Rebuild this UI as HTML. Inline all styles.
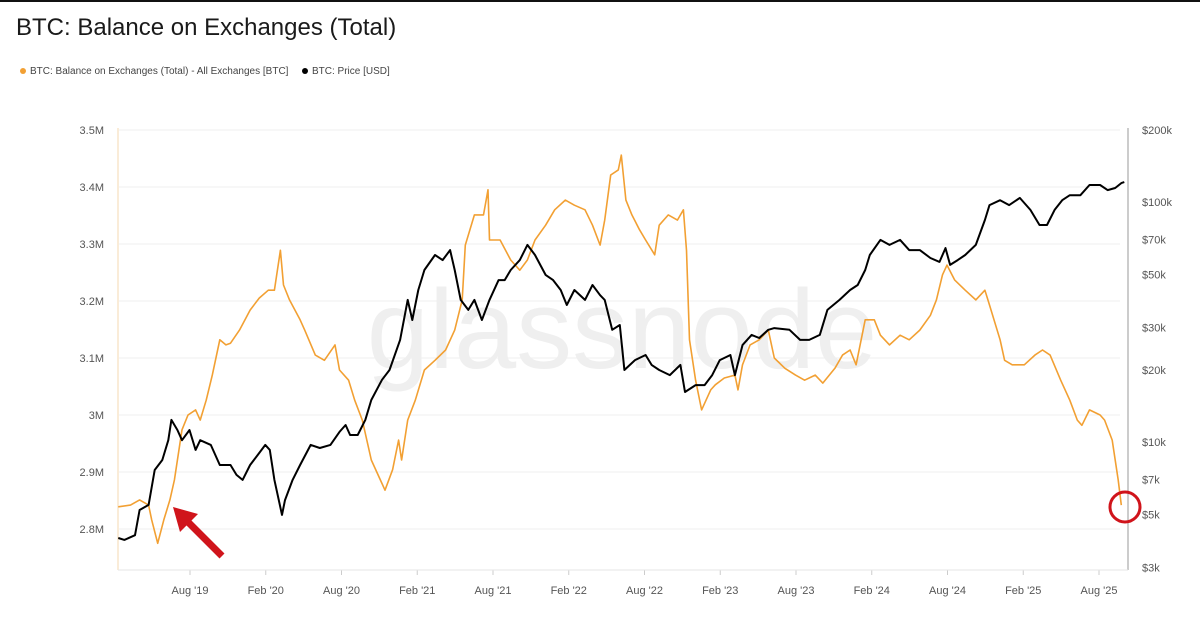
<!DOCTYPE html>
<html><head><meta charset="utf-8"><style>
body{margin:0;background:#fff;font-family:"Liberation Sans",sans-serif}
#wrap{position:relative;width:1200px;height:628px;overflow:hidden}
</style></head><body>
<div id="wrap">
<div style="position:absolute;left:0;top:0;width:1200px;height:2px;background:#111"></div>
<div style="position:absolute;left:16px;top:14px;font-size:24px;color:#1a1a1a">BTC: Balance on Exchanges (Total)</div>
<div style="position:absolute;left:20px;top:66px;font-size:10px;color:#444"><span style="display:inline-block;width:6px;height:6px;border-radius:50%;background:#f2a033;margin-right:4px"></span>BTC: Balance on Exchanges (Total) - All Exchanges [BTC]</div>
<div style="position:absolute;left:302px;top:66px;font-size:10px;color:#444"><span style="display:inline-block;width:6px;height:6px;border-radius:50%;background:#000;margin-right:4px"></span>BTC: Price [USD]</div>
<svg id="chart" width="1200" height="628" style="position:absolute;left:0;top:0"></svg>
</div>
<script>
const balTimes=[2019.11,2019.19,2019.25,2019.31,2019.33,2019.37,2019.41,2019.45,2019.48,2019.53,2019.57,2019.62,2019.65,2019.69,2019.73,2019.78,2019.82,2019.85,2019.91,2019.98,2020.04,2020.10,2020.14,2020.18,2020.20,2020.24,2020.31,2020.34,2020.41,2020.47,2020.54,2020.57,2020.63,2020.67,2020.72,2020.78,2020.84,2020.87,2020.92,2020.96,2020.98,2021.02,2021.07,2021.13,2021.20,2021.27,2021.33,2021.38,2021.40,2021.46,2021.52,2021.55,2021.56,2021.63,2021.70,2021.76,2021.81,2021.86,2021.93,2021.99,2022.06,2022.12,2022.19,2022.24,2022.29,2022.32,2022.36,2022.41,2022.43,2022.46,2022.50,2022.55,2022.59,2022.65,2022.68,2022.74,2022.80,2022.84,2022.86,2022.88,2022.92,2022.96,2023.02,2023.05,2023.11,2023.18,2023.20,2023.23,2023.28,2023.34,2023.40,2023.44,2023.51,2023.58,2023.64,2023.71,2023.76,2023.84,2023.89,2023.94,2023.98,2024.04,2024.10,2024.14,2024.20,2024.27,2024.33,2024.40,2024.47,2024.51,2024.55,2024.58,2024.63,2024.70,2024.77,2024.83,2024.86,2024.93,2024.96,2025.01,2025.09,2025.16,2025.21,2025.26,2025.33,2025.39,2025.44,2025.47,2025.52,2025.59,2025.62,2025.67,2025.71,2025.73];
const balValues=[2.839,2.842,2.851,2.842,2.816,2.775,2.816,2.851,2.886,2.974,3.000,3.009,2.991,3.026,3.070,3.132,3.123,3.126,3.149,3.184,3.205,3.219,3.219,3.289,3.228,3.202,3.167,3.149,3.105,3.096,3.123,3.079,3.061,3.026,2.991,2.921,2.886,2.868,2.904,2.956,2.921,2.991,3.026,3.079,3.096,3.114,3.149,3.202,3.298,3.351,3.351,3.395,3.307,3.307,3.272,3.254,3.272,3.307,3.333,3.360,3.377,3.368,3.360,3.333,3.298,3.342,3.421,3.430,3.456,3.377,3.351,3.325,3.307,3.281,3.333,3.351,3.342,3.360,3.289,3.132,3.061,3.009,3.044,3.053,3.065,3.070,3.044,3.088,3.123,3.132,3.149,3.100,3.082,3.070,3.061,3.070,3.056,3.082,3.105,3.114,3.088,3.167,3.167,3.140,3.123,3.140,3.132,3.149,3.175,3.202,3.246,3.263,3.237,3.219,3.202,3.219,3.193,3.132,3.096,3.088,3.088,3.105,3.114,3.105,3.061,3.026,2.991,2.982,3.009,3.000,2.991,2.956,2.886,2.842];
const priceTimes=[2019.11,2019.15,2019.22,2019.25,2019.31,2019.35,2019.40,2019.44,2019.46,2019.50,2019.53,2019.58,2019.62,2019.65,2019.72,2019.78,2019.85,2019.89,2019.93,2019.98,2020.03,2020.08,2020.11,2020.14,2020.19,2020.21,2020.26,2020.31,2020.38,2020.44,2020.51,2020.57,2020.61,2020.64,2020.69,2020.74,2020.78,2020.85,2020.90,2020.97,2021.02,2021.05,2021.09,2021.13,2021.20,2021.25,2021.30,2021.33,2021.37,2021.42,2021.46,2021.51,2021.56,2021.62,2021.66,2021.70,2021.76,2021.81,2021.86,2021.93,2021.98,2022.03,2022.07,2022.12,2022.19,2022.24,2022.29,2022.32,2022.37,2022.42,2022.45,2022.52,2022.59,2022.63,2022.68,2022.75,2022.82,2022.85,2022.92,2022.98,2023.03,2023.08,2023.15,2023.18,2023.23,2023.29,2023.34,2023.40,2023.44,2023.54,2023.61,2023.67,2023.74,2023.79,2023.87,2023.94,2023.99,2024.04,2024.07,2024.14,2024.20,2024.27,2024.33,2024.40,2024.47,2024.53,2024.57,2024.60,2024.65,2024.70,2024.77,2024.83,2024.86,2024.93,2024.99,2025.06,2025.13,2025.19,2025.24,2025.29,2025.34,2025.39,2025.46,2025.52,2025.59,2025.64,2025.69,2025.73,2025.75];
const priceValues=[3990,3920,4100,5220,5480,7660,8430,10200,12390,11250,10200,11250,9290,10200,9750,8040,8040,7310,6970,8040,8850,9750,9290,6970,4980,5740,6970,8040,9750,9460,9750,11040,11800,10720,10720,12390,15000,18200,20000,26700,39200,32300,43100,52200,60300,57400,63200,52200,39200,35600,39200,32300,39200,47400,47400,52200,57400,66400,60300,49800,47400,43100,37300,43100,39200,45200,41000,39200,29400,30800,20000,22000,23100,21000,20000,19050,21000,16190,17300,17300,19050,22000,23100,19050,25400,28000,27200,29400,29900,29400,26700,26700,28000,35600,39200,43100,45200,52200,60300,69700,66400,69700,63200,63200,58600,56400,64400,54800,57400,60300,66400,84300,97300,102000,97300,104300,92900,80400,80400,92900,102000,107000,107000,118000,118000,112400,114600,120200,121300];
const leftTicks=[3.5,3.4,3.3,3.2,3.1,3.0,2.9,2.8];
const leftTickLabels=["3.5M","3.4M","3.3M","3.2M","3.1M","3M","2.9M","2.8M"];
const rightTicks=[200000,100000,70000,50000,30000,20000,10000,7000,5000,3000];
const rightTickLabels=["$200k","$100k","$70k","$50k","$30k","$20k","$10k","$7k","$5k","$3k"];
const xTicks=[2019.583,2020.083,2020.583,2021.083,2021.583,2022.083,2022.583,2023.083,2023.583,2024.083,2024.583,2025.083,2025.583];
const xTickLabels=["Aug '19","Feb '20","Aug '20","Feb '21","Aug '21","Feb '22","Aug '22","Feb '23","Aug '23","Feb '24","Aug '24","Feb '25","Aug '25"];

const NS="http://www.w3.org/2000/svg";
const svg=document.getElementById('chart');
const X=t=>190+(t-2019.583)*151.5;
const YL=v=>130+(3.5-v)*570;
const YR=p=>130+(Math.log10(200000)-Math.log10(p))*240;
function mk(tag,attrs,parent){const e=document.createElementNS(NS,tag);for(const k in attrs)e.setAttribute(k,attrs[k]);(parent||svg).appendChild(e);return e;}

const wm=mk('text',{x:622,y:368,'font-size':112,'text-anchor':'middle',fill:'#efefef','font-family':'Liberation Sans, sans-serif','font-weight':'normal'});


wm.textContent='glassnode';

leftTicks.forEach((v,i)=>{
  const g=mk('line',{x1:119,x2:1120,y1:YL(v),y2:YL(v),stroke:'#efefef','stroke-width':1});
  
  
  const t=mk('text',{x:104,y:YL(v)+4,'font-size':11,'text-anchor':'end',fill:'#555','font-family':'Liberation Sans, sans-serif'});
  
  
  t.textContent=leftTickLabels[i];
});
rightTicks.forEach((v,i)=>{
  const t=mk('text',{x:1142,y:YR(v)+4,'font-size':11,fill:'#555','font-family':'Liberation Sans, sans-serif'});
  
  
  t.textContent=rightTickLabels[i];
});
xTicks.forEach((v,i)=>{
  const tk=mk('line',{x1:X(v),x2:X(v),y1:570,y2:575,stroke:'#ccc'});
  
  
  const t=mk('text',{x:X(v),y:594,'font-size':11,'text-anchor':'middle',fill:'#555','font-family':'Liberation Sans, sans-serif'});
  
  
  t.textContent=xTickLabels[i];
});
const la=mk('line',{x1:118,x2:118,y1:128,y2:570,stroke:'#f6d9b0','stroke-width':1});


const ra=mk('line',{x1:1128,x2:1128,y1:128,y2:570,stroke:'#999','stroke-width':1});


const ba=mk('line',{x1:118,x2:1128,y1:570,y2:570,stroke:'#e6e6e6','stroke-width':1});



const bp=mk('polyline',{points:balTimes.map((t,i)=>X(t).toFixed(1)+','+YL(balValues[i]).toFixed(1)).join(' '),fill:'none',stroke:'#f2a033','stroke-width':1.6,'stroke-linejoin':'round'});


const pp=mk('polyline',{points:priceTimes.map((t,i)=>X(t).toFixed(1)+','+YR(priceValues[i]).toFixed(1)).join(' '),fill:'none',stroke:'#000','stroke-width':2,'stroke-linejoin':'round'});



const ar=mk('line',{x1:222,x2:186,y1:556,y2:520,stroke:'#d0141b','stroke-width':7});


const ah=mk('polygon',{points:'173,507 198,514 180,532',fill:'#d0141b'});


const rc=mk('circle',{cx:1125,cy:507,r:15,fill:'none',stroke:'#d0141b','stroke-width':3});


</script>
</body></html>
